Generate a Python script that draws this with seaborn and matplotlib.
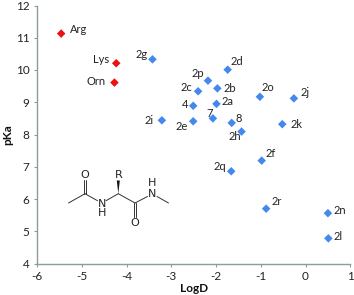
import pandas as pd
import matplotlib
matplotlib.use("Agg")
import matplotlib.pyplot as plt
import seaborn as sns

# -------------------------
# DATA
# -------------------------
amino_names = ["Arg", "Lys", "Orn"]
amino_logd = [-5.46, -4.23, -4.27]
amino_pka = [11.13, 10.21, 9.61]

peptide_names = ["2g", "2i", "2d", "2p", "2c", "2b", "4", "2a", "7", "2e", "8", "2h",
                 "2o", "2j", "2k", "2f", "2q", "2r", "2n", "2l"]
peptide_logd = [-3.42, -3.21, -1.74, -2.18, -2.40, -1.97, -2.51, -1.99, -2.07, -2.51, -1.65, -1.43,
                -1.02, -0.26, -0.52, -0.98, -1.66, -0.88, 0.50, 0.51]
peptide_pka = [10.33, 8.44, 10.01, 9.67, 9.34, 9.43, 8.89, 8.95, 8.50, 8.41, 8.36, 8.09,
               9.17, 9.12, 8.32, 7.19, 6.86, 5.70, 5.56, 4.78]

x_ticks = [-6, -5, -4, -3, -2, -1, 0, 1]
y_ticks = [4, 5, 6, 7, 8, 9, 10, 11, 12]

# label offset from its point, in pixels (right, up)
label_offsets = {
    "Arg": (17, 4), "Lys": (-15, 4), "Orn": (-18, 1), "2g": (-11, 5), "2i": (-13, 0),
    "2d": (9, 8), "2p": (-10, 7), "2c": (-12, 4), "2b": (12, 0), "4": (-8, 1),
    "2a": (11, 2), "7": (-3, 5), "2e": (-12, -5), "8": (7, 4), "2h": (-7, -5),
    "2o": (8, 9), "2j": (11, 6), "2k": (14, 0), "2f": (9, 7), "2q": (-11, 5),
    "2r": (11, 7), "2n": (12, 3), "2l": (10, 2),
}

df = pd.DataFrame({
    "name": amino_names + peptide_names,
    "LogD": amino_logd + peptide_logd,
    "pKa": amino_pka + peptide_pka,
    "group": ["amino"] * len(amino_names) + ["peptide"] * len(peptide_names),
})

# -------------------------
# PLOT
# -------------------------
sns.set_style("ticks")
plt.rcParams["font.family"] = ["Lato", "DejaVu Sans"]
plt.rcParams["axes.unicode_minus"] = False

fig = plt.figure(figsize=(3.54, 2.95), dpi=100)
ax = fig.add_axes([37 / 354, 1 - 263.5 / 295, 313.3 / 354, 258 / 295])

sns.scatterplot(
    data=df, x="LogD", y="pKa", hue="group",
    palette={"amino": "#ee1111", "peptide": "#4488ee"},
    marker="D", s=19, linewidth=0, legend=False, ax=ax, clip_on=False,
)

for _, row in df.iterrows():
    dx, dy = label_offsets[row["name"]]
    ax.annotate(row["name"], (row["LogD"], row["pKa"]),
                xytext=(dx * 0.72, dy * 0.72), textcoords="offset points",
                ha="center", va="center", fontsize=8, color="#222222")

ax.set_xlim(-6, 1)
ax.set_ylim(4, 12)
ax.set_xticks(x_ticks)
ax.set_yticks(y_ticks)
ax.set_xlabel("LogD", fontsize=8.5, fontweight="bold", color="#111111", labelpad=0.5)
ax.set_ylabel("pKa", fontsize=8.5, fontweight="bold", color="#111111", labelpad=2)
ax.tick_params(labelsize=8.5, length=2.5, width=0.8, color="#8c9c9c", labelcolor="#222222", pad=3)
sns.despine(ax=ax)
ax.spines["left"].set_color("#8c9c9c")
ax.spines["bottom"].set_color("#8c9c9c")
ax.spines["left"].set_linewidth(1.0)
ax.spines["bottom"].set_linewidth(1.0)

# -------------------------
# STRUCTURE DRAWING
# -------------------------
mol = fig.add_axes([0, 0, 1, 1])
mol.set_xlim(0, 354)
mol.set_ylim(295, 0)
mol.axis("off")
mol.patch.set_alpha(0)

bonds = [
    ((68.5, 203), (85, 193.7)), ((85, 193.7), (97.5, 200.7)),
    ((106, 200.7), (118.3, 193.7)), ((118.3, 193.7), (135, 203)),
    ((135, 203), (147.5, 196.5)), ((157, 196.5), (168.5, 203)),
    ((83.6, 193.7), (83.6, 180)), ((86.4, 193.7), (86.4, 180)),
    ((133.6, 203), (133.6, 217)), ((136.4, 203), (136.4, 217)),
]
for p, q in bonds:
    mol.plot([p[0], q[0]], [p[1], q[1]], color="#333333", lw=0.7)

mol.fill([118.3, 116.8, 119.8], [193.7, 180.5, 180.5], color="#111111", lw=0)

atoms = [("O", 85, 174.5), ("N", 101.7, 204), ("H", 101.7, 213.5), ("R", 118.3, 174.5),
         ("O", 135, 223), ("N", 151.7, 194), ("H", 151.7, 183.5)]
for label, x, y in atoms:
    mol.text(x, y, label, ha="center", va="center", fontsize=8,
             family="DejaVu Sans", color="#222222")

fig.savefig("out.png", dpi=100)
